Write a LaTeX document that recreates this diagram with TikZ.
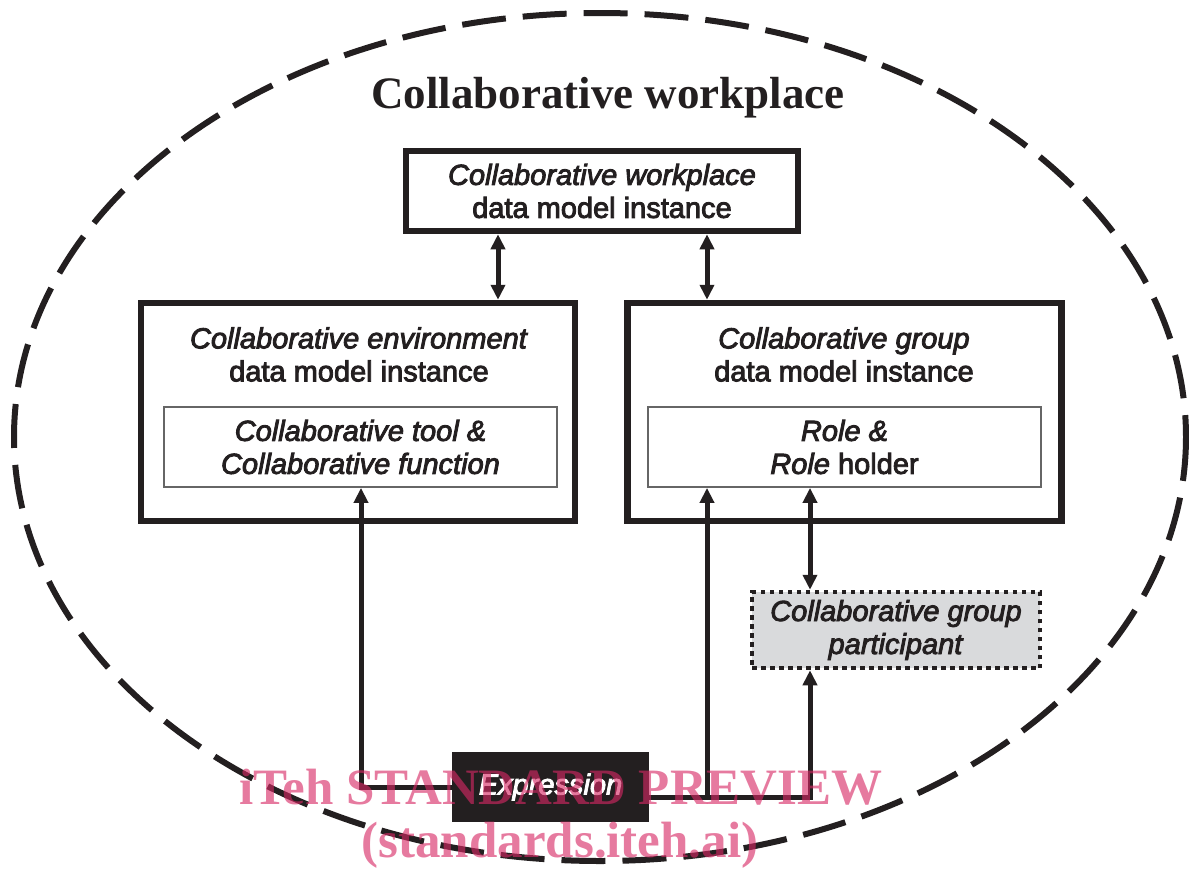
\documentclass[tikz,border=0pt]{standalone}
\usepackage{fontspec}
\setmainfont{Liberation Sans}
\newfontfamily\figfont[FakeBold=3]{Liberation Sans}
\newfontfamily\serifb{Liberation Serif}
\usetikzlibrary{arrows.meta,calc}
\definecolor{ink}{RGB}{35,31,32}
\definecolor{partgray}{RGB}{217,218,220}
\definecolor{wmpink}{RGB}{215,40,100}
\newcommand{\bodyfont}{\figfont\fontsize{29}{33}\selectfont}
\begin{document}
\begin{tikzpicture}[x=1pt,y=-1pt,
  box/.style={draw=ink, line width=6.5pt, fill=white, inner sep=0pt},
  inbox/.style={draw=black!60, line width=1.8pt, inner sep=0pt},
  txt/.style={align=center, inner sep=0pt, font=\bodyfont, text=ink},
  arr/.style={draw=ink, line width=5pt, -{Triangle[length=15pt,width=14pt]}},
  darr/.style={draw=ink, line width=5pt, {Triangle[length=15pt,width=14pt]}-{Triangle[length=15pt,width=14pt]}},
  wm/.style={text=wmpink, text opacity=0.62, inner sep=0pt, font=\serifb\bfseries\fontsize{51}{51}\selectfont}
]
\useasboundingbox (0,0) rectangle (1189,870);
\draw[ink, line width=6pt, dash pattern=on 44pt off 17pt] (600,437) ellipse [x radius=586, y radius=424];

\node[inner sep=0pt, text=ink, font=\serifb\bfseries\fontsize{45}{50}\selectfont] (title) at (608,98) {Collaborative workplace};

\node[box, txt, minimum width=392pt, minimum height=80pt] (wp) at (602,191) {\textit{Collaborative workplace}\\data model instance};

\node[box, minimum width=434pt, minimum height=218pt] (env) at (358,412) {};
\node[txt] (envl) at (359,354.5) {\textit{Collaborative environment}\\data model instance};
\node[inbox, txt, minimum width=393pt, minimum height=80pt] (tool) at (360.5,447) {\textit{Collaborative tool \&}\\\textit{Collaborative function}};

\node[box, minimum width=434pt, minimum height=218pt] (grp) at (844.5,412) {};
\node[txt] (grpl) at (844,354.5) {\textit{Collaborative group}\\data model instance};
\node[inbox, txt, minimum width=393pt, minimum height=80pt] (role) at (844.5,447) {\textit{Role \&}\\\textit{Role} holder};

\node[txt, draw=ink, line width=4.5pt, dash pattern=on 4.5pt off 4.5pt, fill=partgray, minimum width=288pt, minimum height=76pt] (part) at (896,630) {\textit{Collaborative group}\\\textit{participant}};

\node[fill=ink, minimum width=197pt, minimum height=70pt, inner sep=0pt, text=white, font=\bodyfont] (expr) at (550.5,787) {\textit{Expression}};

\coordinate (xa) at (498,0);
\coordinate (xl) at (361,0);
\coordinate (xm) at (707,0);
\coordinate (xr) at (810,0);
\coordinate (ee) at ($(expr.east)+(0,10)$);

\draw[darr] (wp.south -| xa) -- (env.north -| xa);
\draw[darr] (wp.south -| xm) -- (grp.north -| xm);
\draw[arr] (expr.west) -| (tool.south -| xl);
\draw[arr] (ee) -| (part.south -| xr);
\draw[arr] (ee -| xm) -- (role.south -| xm);
\draw[darr] (role.south -| xr) -- (part.north -| xr);

\node[wm] (wm1) at (561,787) {iTeh STANDARD PREVIEW};
\node[wm] (wm2) at (560,845) {(standards.iteh.ai)};
\end{tikzpicture}
\end{document}
